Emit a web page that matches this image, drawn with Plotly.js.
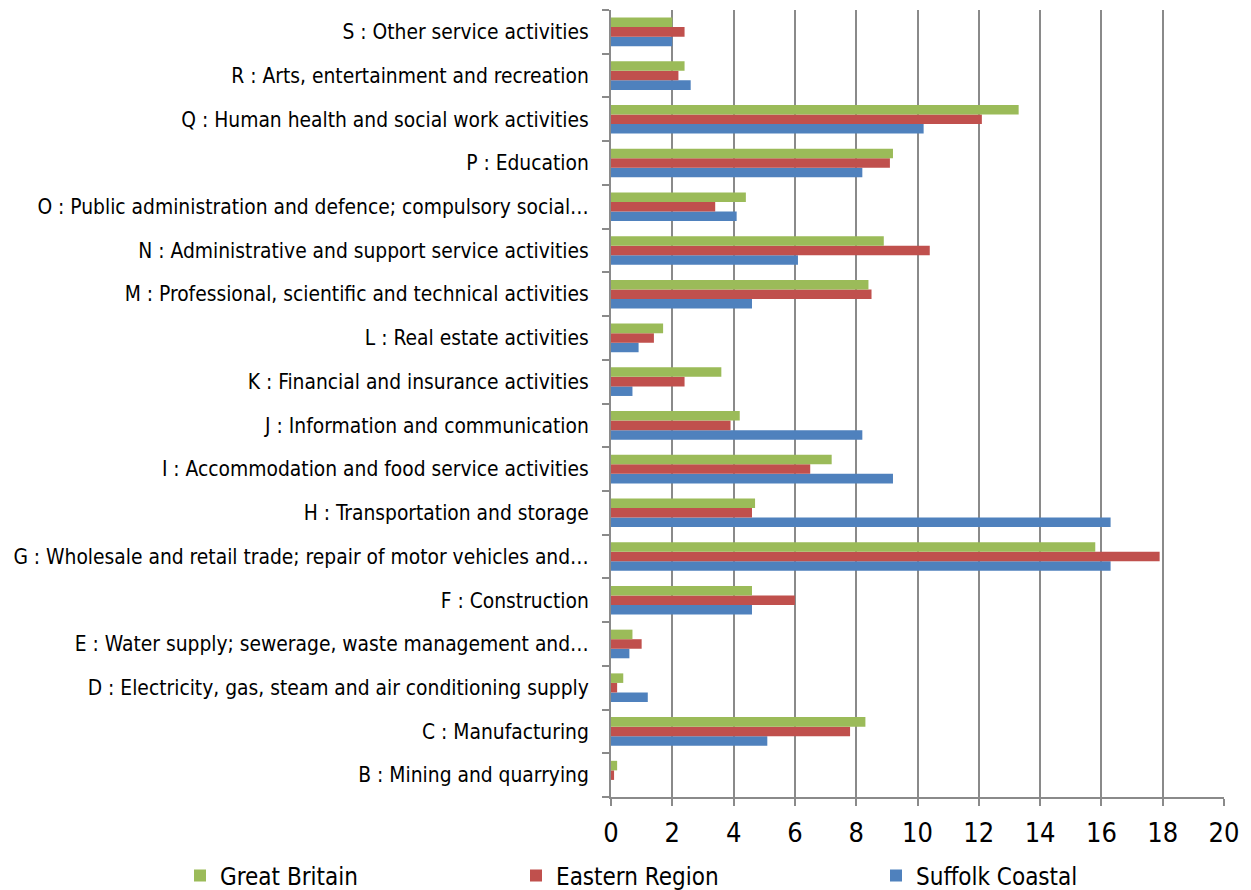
<!DOCTYPE html>
<html>
<head>
<meta charset="utf-8">
<script src="https://cdn.plot.ly/plotly-3.0.1.min.js"></script>
<style>
  html, body { margin: 0; padding: 0; background: #ffffff; }
  #chart { width: 1251px; height: 890px; }
</style>
</head>
<body>
<div id="chart"></div>
<script>
// Industry sections, bottom to top
const industries = [
  "B : Mining and quarrying",
  "C : Manufacturing",
  "D : Electricity, gas, steam and air conditioning supply",
  "E : Water supply; sewerage, waste management and…",
  "F : Construction",
  "G : Wholesale and retail trade; repair of motor vehicles and…",
  "H : Transportation and storage",
  "I : Accommodation and food service activities",
  "J : Information and communication",
  "K : Financial and insurance activities",
  "L : Real estate activities",
  "M : Professional, scientific and technical activities",
  "N : Administrative and support service activities",
  "O : Public administration and defence; compulsory social…",
  "P : Education",
  "Q : Human health and social work activities",
  "R : Arts, entertainment and recreation",
  "S : Other service activities"
];

// Share of employee jobs (%)
const suffolkCoastal = [0.0, 5.1, 1.2, 0.6, 4.6, 16.3, 16.3, 9.2, 8.2, 0.7, 0.9, 4.6, 6.1, 4.1, 8.2, 10.2, 2.6, 2.0];
const easternRegion  = [0.1, 7.8, 0.2, 1.0, 6.0, 17.9, 4.6, 6.5, 3.9, 2.4, 1.4, 8.5, 10.4, 3.4, 9.1, 12.1, 2.2, 2.4];
const greatBritain   = [0.2, 8.3, 0.4, 0.7, 4.6, 15.8, 4.7, 7.2, 4.2, 3.6, 1.7, 8.4, 8.9, 4.4, 9.2, 13.3, 2.4, 2.0];

const xTicks = [0, 2, 4, 6, 8, 10, 12, 14, 16, 18, 20];

const FONT = "'DejaVu Sans Condensed', 'DejaVu Sans', sans-serif";

function series(name, values, color, legendId) {
  return {
    type: "bar",
    orientation: "h",
    name: name,
    x: values,
    y: industries,
    marker: { color: color, line: { width: 0 } },
    legend: legendId,
    hoverinfo: "x+name"
  };
}

const data = [
  series("Suffolk Coastal", suffolkCoastal, "#4F81BD", "legend3"),
  series("Eastern Region", easternRegion, "#C0504D", "legend2"),
  series("Great Britain", greatBritain, "#9BBB59", "legend")
];

function legendAt(x) {
  return {
    xref: "container", yref: "container",
    x: x, y: 1 - 876 / 890,
    xanchor: "left", yanchor: "middle",
    orientation: "h",
    bgcolor: "rgba(0,0,0,0)",
    font: { family: FONT, size: 24, color: "#000" },
    itemwidth: 30
  };
}

const layout = {
  width: 1251,
  height: 890,
  margin: { l: 611, r: 27, t: 10, b: 93 },
  paper_bgcolor: "#ffffff",
  plot_bgcolor: "#ffffff",
  barmode: "group",
  bargap: 0.345,
  bargroupgap: 0,
  showlegend: true,
  legend: legendAt(180 / 1251),
  legend2: legendAt(516 / 1251),
  legend3: legendAt(876 / 1251),
  font: { family: FONT, color: "#000" },
  xaxis: {
    range: [0, 20],
    tickvals: xTicks,
    ticktext: xTicks.map(String),
    showgrid: true,
    gridcolor: "#8a8a8a",
    gridwidth: 2,
    zeroline: false,
    showline: true,
    linecolor: "#8a8a8a",
    linewidth: 2,
    ticks: "outside",
    ticklen: 7,
    tickwidth: 2,
    tickcolor: "#8a8a8a",
    ticklabelstandoff: 4,
    tickfont: { family: FONT, size: 27, color: "#000" },
    fixedrange: true
  },
  yaxis: {
    type: "category",
    categoryorder: "array",
    categoryarray: industries,
    showgrid: false,
    zeroline: false,
    showline: true,
    linecolor: "#8a8a8a",
    linewidth: 2,
    ticks: "outside",
    tickson: "boundaries",
    ticklen: 7,
    tickwidth: 2,
    tickcolor: "#8a8a8a",
    ticklabelstandoff: 16,
    tickfont: { family: FONT, size: 20.8, color: "#000" },
    automargin: false,
    fixedrange: true
  }
};

Plotly.newPlot("chart", data, layout, { displayModeBar: false, staticPlot: true });
</script>
</body>
</html>
